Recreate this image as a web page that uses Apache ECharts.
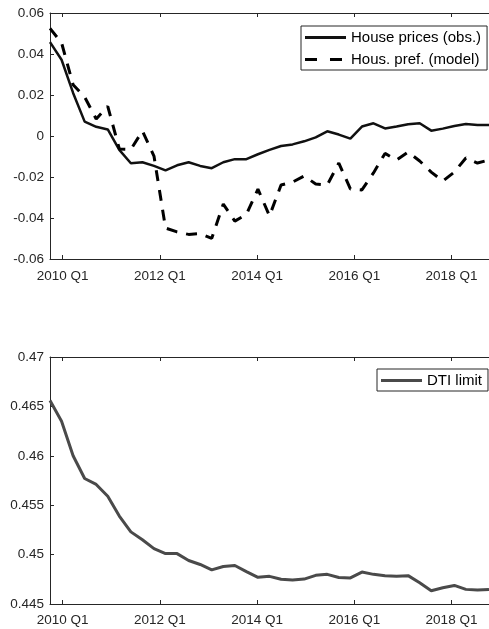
<!DOCTYPE html>
<html>
<head>
<meta charset="utf-8">
<script src="https://cdn.jsdelivr.net/npm/echarts@6/dist/echarts.min.js"></script>
<style>
  html, body { margin: 0; padding: 0; background: #fff; }
  #chart { width: 489px; height: 629px; }
</style>
</head>
<body>
<div id="chart"></div>
<script>
// Time of the first observation (decimal years) and spacing between observations
const firstObs = 2009.739;
const obsStep = 0.2377;

// Axis tick positions (years) and their labels
const tickYears = [2010, 2012, 2014, 2016, 2018];
const tickLabels = ['2010 Q1', '2012 Q1', '2014 Q1', '2016 Q1', '2018 Q1'];

// Upper panel: observed house prices and model-implied housing preference shock
const housePrices = [
  0.0458, 0.0372, 0.0210, 0.0070, 0.0045, 0.0032, -0.0068, -0.0133, -0.0128, -0.0146,
  -0.0168, -0.0143, -0.0128, -0.0146, -0.0157, -0.0128, -0.0113, -0.0113, -0.0089, -0.0068,
  -0.0049, -0.0041, -0.0026, -0.0007, 0.0023, 0.0007, -0.0013, 0.0046, 0.0062, 0.0037,
  0.0046, 0.0057, 0.0062, 0.0026, 0.0036, 0.0049, 0.0059, 0.0054, 0.0054
];
const housingPref = [
  0.0525, 0.0455, 0.0250, 0.0190, 0.0083, 0.0145, -0.0063, -0.0065, 0.0024, -0.0098,
  -0.0449, -0.0468, -0.0480, -0.0476, -0.0499, -0.0332, -0.0415, -0.0383, -0.0259, -0.0390,
  -0.0239, -0.0225, -0.0195, -0.0234, -0.0239, -0.0132, -0.0258, -0.0263, -0.0180, -0.0085,
  -0.0117, -0.0078, -0.0122, -0.0176, -0.0220, -0.0176, -0.0107, -0.0132, -0.0117
];

// Lower panel: debt-to-income limit
const dtiLimit = [
  0.4656, 0.4635, 0.4600, 0.4577, 0.4571, 0.4559, 0.4539, 0.4523, 0.4515, 0.4506,
  0.4501, 0.4501, 0.4494, 0.4490, 0.44845, 0.4488, 0.4489, 0.44828, 0.4477, 0.4478,
  0.4475, 0.44742, 0.44752, 0.4479, 0.4480, 0.44768, 0.44764, 0.44823, 0.4480, 0.44787,
  0.4478, 0.44787, 0.44715, 0.44634, 0.44664, 0.44688, 0.44648, 0.44641, 0.44648
];

const FONT = "'Liberation Sans', Arial, Helvetica, sans-serif";
const AXIS_COLOR = '#262626';

// Legend line samples: a solid bar and a two-dash bar, 41 units wide
const SOLID_ICON = 'path://M0,0h41v3h-41z';
const DASHED_ICON = 'path://M0,0h12v3h-12z M25,0h12v3h-12z M41,0h0.01v3h-0.01z';

const toPairs = values => values.map((v, i) => [firstObs + i * obsStep, v]);
const xMin = firstObs;
const xMax = firstObs + (housePrices.length - 1) * obsStep;

function xAxisFor(gridIndex, position, margin) {
  const bottom = position === 'bottom';
  return {
    type: 'value', gridIndex, position, min: xMin, max: xMax,
    axisLine: { show: true, onZero: false, lineStyle: { color: AXIS_COLOR, width: 1 } },
    axisTick: { show: true, inside: true, length: 4, customValues: tickYears,
                lineStyle: { color: AXIS_COLOR, width: 1 } },
    axisLabel: { show: bottom, customValues: tickYears, margin,
                 formatter: v => tickLabels[tickYears.indexOf(Math.round(v))],
                 color: AXIS_COLOR, fontSize: 13.5, fontFamily: FONT },
    splitLine: { show: false }
  };
}

function yAxisFor(gridIndex, min, max, interval) {
  return {
    type: 'value', gridIndex, min, max, interval,
    axisLine: { show: true, onZero: false, lineStyle: { color: AXIS_COLOR, width: 1 } },
    axisTick: { show: true, inside: true, length: 4, lineStyle: { color: AXIS_COLOR, width: 1 } },
    axisLabel: { margin: 6, color: AXIS_COLOR, fontSize: 13.5, fontFamily: FONT },
    splitLine: { show: false }
  };
}

function legendAt(items, left, top) {
  return {
    data: items, left, top, orient: 'vertical',
    itemWidth: 41, itemHeight: 3, itemGap: 5,
    padding: [3, 6, 2, 4],
    borderColor: AXIS_COLOR, borderWidth: 1, backgroundColor: '#fff',
    textStyle: { fontSize: 15, color: '#000', fontFamily: FONT, lineHeight: 17 }
  };
}

const chart = echarts.init(document.getElementById('chart'), null, { renderer: 'canvas' });
chart.setOption({
  animation: false,
  backgroundColor: '#fff',
  grid: [
    { left: 50, right: 0, top: 13, bottom: 370 },
    { left: 50, right: 0, top: 357, bottom: 25 }
  ],
  xAxis: [
    xAxisFor(0, 'bottom', 10), xAxisFor(0, 'top', 8),
    xAxisFor(1, 'bottom', 9), xAxisFor(1, 'top', 8)
  ],
  yAxis: [
    yAxisFor(0, -0.06, 0.06, 0.02),
    yAxisFor(1, 0.445, 0.47, 0.005)
  ],
  legend: [
    legendAt([
      { name: 'House prices (obs.)', icon: SOLID_ICON },
      { name: 'Hous. pref. (model)', icon: DASHED_ICON }
    ], 301, 26),
    legendAt([{ name: 'DTI limit', icon: SOLID_ICON }], 377, 369)
  ],
  series: [
    {
      name: 'House prices (obs.)', type: 'line', xAxisIndex: 0, yAxisIndex: 0,
      data: toPairs(housePrices), symbol: 'none',
      lineStyle: { color: '#111', width: 2.5 }, itemStyle: { color: '#111' }
    },
    {
      name: 'Hous. pref. (model)', type: 'line', xAxisIndex: 0, yAxisIndex: 0,
      data: toPairs(housingPref), symbol: 'none',
      lineStyle: { color: '#000', width: 3, type: [11, 9] }, itemStyle: { color: '#000' }
    },
    {
      name: 'DTI limit', type: 'line', xAxisIndex: 2, yAxisIndex: 1,
      data: toPairs(dtiLimit), symbol: 'none',
      lineStyle: { color: '#4a4a4a', width: 3 }, itemStyle: { color: '#4a4a4a' }
    }
  ]
});
</script>
</body>
</html>
